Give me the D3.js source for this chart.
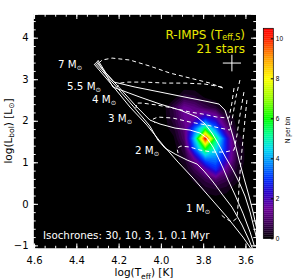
<!DOCTYPE html>
<html>
<head>
<meta charset="utf-8">
<script src="https://cdn.jsdelivr.net/npm/d3@7"></script>
<style>
  body { margin: 0; background: #fff; }
  svg { display: block; font-family: "DejaVu Sans", sans-serif; }
</style>
</head>
<body>
<svg id="chart" width="300" height="280"></svg>
<script>
// ---- axis ticks ----
const xTicks = [4.6, 4.4, 4.2, 4.0, 3.8, 3.6];
const yTicks = [-1, 0, 1, 2, 3, 4];
const cbTicks = [0, 2, 4, 6, 8, 10];

// ---- isochrones (solid), [log Teff, log L] ----
const isoLabels = ["30", "10", "3", "1", "0.1"];
const iso30 = [[4.316,3.364],[4.231,2.859],[4.146,2.330],[4.066,1.896],[3.990,1.415],[3.919,1.006],[3.848,0.621],[3.753,0.067],[3.687,-0.318],[3.612,-0.799],[3.569,-1.112]];
const iso10 = [[4.312,3.389],[4.222,2.883],[4.132,2.354],[4.052,1.872],[4.014,1.536],[3.981,1.343],[3.933,1.199],[3.876,1.054],[3.829,0.958],[3.796,0.789],[3.768,0.621],[3.749,0.501],[3.711,0.236],[3.664,-0.077],[3.616,-0.510],[3.583,-0.871],[3.564,-1.112]];
const iso3 = [[4.307,3.413],[4.212,2.883],[4.118,2.354],[4.052,2.017],[4.004,1.921],[3.933,1.824],[3.862,1.776],[3.815,1.704],[3.782,1.584],[3.753,1.367],[3.730,1.126],[3.706,0.862],[3.682,0.573],[3.649,0.212],[3.612,-0.222],[3.578,-0.679],[3.559,-0.991]];
const iso1 = [[4.302,3.437],[4.264,3.148],[4.227,2.811],[4.099,2.570],[4.004,2.402],[3.910,2.258],[3.829,2.089],[3.791,1.921],[3.758,1.704],[3.730,1.463],[3.692,1.102],[3.659,0.813],[3.630,0.525],[3.602,0.188],[3.578,-0.197],[3.559,-0.583],[3.545,-0.871]];
const iso01 = [[4.298,3.461],[4.260,3.148],[4.222,2.931],[4.122,2.811],[4.004,2.691],[3.886,2.570],[3.791,2.474],[3.725,2.402],[3.697,2.258],[3.678,1.969],[3.654,1.536],[3.630,1.054],[3.607,0.621],[3.583,0.188],[3.564,-0.197],[3.545,-0.630]];

// ---- evolutionary tracks (dashed) ----
const trackMasses = ["7", "5.5", "4", "3", "2", "1"];
const trk7 = [[3.706,2.787],[3.768,2.907],[3.862,3.027],[3.957,3.148],[4.052,3.316],[4.146,3.461],[4.231,3.509],[4.279,3.461],[4.288,3.413]];
const trk55 = [[3.711,2.811],[3.791,2.883],[3.886,2.907],[3.981,2.907],[4.075,2.931],[4.156,2.931],[4.193,2.907],[4.208,2.811]];
const trk4 = [[3.654,2.787],[3.664,2.426],[3.678,2.065],[3.735,2.089],[3.801,2.161],[3.862,2.209],[3.943,2.306],[4.018,2.378],[4.089,2.426],[4.113,2.426],[4.118,2.306]];
const trk3 = [[3.626,2.979],[3.645,2.570],[3.659,2.137],[3.673,1.776],[3.720,1.824],[3.782,1.896],[3.862,1.969],[3.943,2.065],[4.014,2.089],[4.037,2.041],[4.028,1.945]];
const trk2 = [[3.607,2.691],[3.626,2.137],[3.640,1.656],[3.654,1.295],[3.697,1.247],[3.758,1.247],[3.815,1.295],[3.862,1.367],[3.905,1.391],[3.924,1.343],[3.919,1.223]];
const trk1 = [[3.593,2.498],[3.607,1.776],[3.621,1.054],[3.630,0.453],[3.635,-0.029],[3.640,-0.342],[3.664,-0.438],[3.697,-0.342],[3.720,-0.245]];

// ---- stellar density (N per bin) on a grid ----
const heatT = [4.04, 3.99, 3.94, 3.89, 3.84, 3.79, 3.74, 3.69, 3.64, 3.59, 3.54];
const heatL = [0.07, 0.32, 0.57, 0.82, 1.07, 1.32, 1.57, 1.82, 2.07, 2.32, 2.57, 2.82];
const heatN = [
  [0, 0, 0,   0,   0,   0,    0,   0,   0,   0, 0],
  [0, 0, 0,   0,   0,   0.2,  0.3, 0.2, 0,   0, 0],
  [0, 0, 0,   0,   0.2, 0.6,  0.9, 0.6, 0.2, 0, 0],
  [0, 0, 0,   0.1, 0.7, 1.6,  2.8, 1.3, 0.3, 0, 0],
  [0, 0, 0,   0.3, 1.5, 3.5,  3.6, 2.3, 0.5, 0, 0],
  [0, 0, 0,   0.5, 3.4, 6.0,  4.6, 2.6, 0.5, 0, 0],
  [0, 0, 0.1, 0.9, 4.4, 10.4, 5.5, 2.6, 0.3, 0, 0],
  [0, 0, 0.3, 1.1, 3.4, 5.5,  3.5, 1.3, 0.1, 0, 0],
  [0, 0, 0.5, 1.4, 1.6, 2.6,  1.9, 0.5, 0,   0, 0],
  [0, 0, 0.6, 1.5, 1.2, 0.7,  0.4, 0,   0,   0, 0],
  [0, 0, 0,   0.5, 0.4, 0.1,  0,   0,   0,   0, 0],
  [0, 0, 0,   0,   0,   0,    0,   0,   0,   0, 0]
];

// typical error bar [log Teff, log L] and half sizes
const errPoint = [3.664, 3.389];
const errSize = [0.043, 0.2];

const svg = d3.select("#chart");

const x = d3.scaleLinear().domain([4.605, 3.55]).range([33, 256]);
const y = d3.scaleLinear().domain([-1.075, 4.57]).range([248.5, 14]);

// rainbow-like colour table
const cmapStops = [0, 0.8, 1.5, 2.3, 3.0, 3.8, 4.5, 5.2, 6.0, 7.0, 8.0, 9.0, 10.0, 10.5];
const cmapCols = ["#000000", "#40005a", "#6c0098", "#2a00c8", "#0030ff", "#0090ff", "#00dcf0",
                  "#00ff90", "#00ff00", "#98ff00", "#ffff00", "#ffa000", "#ff2000", "#ff0000"];
const color = d3.scaleLinear().domain(cmapStops).range(cmapCols).clamp(true);

// plot background
svg.append("rect")
  .attr("x", 33).attr("y", 14)
  .attr("width", 223).attr("height", 234.5)
  .attr("fill", "#000");

svg.append("clipPath").attr("id", "clip")
  .append("rect").attr("x", 33).attr("y", 14).attr("width", 223).attr("height", 234.5);

const plot = svg.append("g").attr("clip-path", "url(#clip)");

// density as filled contour bands
const nx = heatT.length, ny = heatL.length;
const gT = d3.scaleLinear().domain([0.5, nx - 0.5]).range([heatT[0], heatT[nx - 1]]);
const gL = d3.scaleLinear().domain([0.5, ny - 0.5]).range([heatL[0], heatL[ny - 1]]);
const step = 0.2;
const levels = d3.range(0.15, 10.5, step);
const contours = d3.contours().size([nx, ny]).thresholds(levels)(heatN.flat());
const proj = d3.geoTransform({
  point: function(px, py) { this.stream.point(x(gT(px)), y(gL(py))); }
});
plot.append("g").selectAll("path")
  .data(contours)
  .join("path")
  .attr("d", d3.geoPath(proj))
  .attr("fill", d => color(d.value + step / 2));

const line = d3.line().x(d => x(d[0])).y(d => y(d[1]));

plot.append("g").selectAll("path")
  .data([iso30, iso10, iso3, iso1, iso01])
  .join("path")
  .attr("d", line)
  .attr("fill", "none")
  .attr("stroke", "#fff")
  .attr("stroke-width", 1);

plot.append("g").selectAll("path")
  .data([trk7, trk55, trk4, trk3, trk2, trk1])
  .join("path")
  .attr("d", line)
  .attr("fill", "none")
  .attr("stroke", "#fff")
  .attr("stroke-width", 1)
  .attr("stroke-dasharray", "4,3");

// error cross
plot.append("line")
  .attr("x1", x(errPoint[0] + errSize[0])).attr("x2", x(errPoint[0] - errSize[0]))
  .attr("y1", y(errPoint[1])).attr("y2", y(errPoint[1]))
  .attr("stroke", "#fff").attr("stroke-width", 1);
plot.append("line")
  .attr("x1", x(errPoint[0])).attr("x2", x(errPoint[0]))
  .attr("y1", y(errPoint[1] - errSize[1])).attr("y2", y(errPoint[1] + errSize[1]))
  .attr("stroke", "#fff").attr("stroke-width", 1);

// mass labels
const massPos = [[58, 68], [67, 89.5], [92, 103], [108, 122], [135, 154], [186, 212]];
const labels = plot.append("g").attr("fill", "#fff").attr("font-size", 10.3);
trackMasses.forEach((m, i) => {
  const t = labels.append("text").attr("x", massPos[i][0]).attr("y", massPos[i][1]);
  t.append("tspan").text(m + " M");
  t.append("tspan").attr("font-size", 6.5).attr("dy", 2).text("\u2299");
});

labels.append("text")
  .attr("x", 43).attr("y", 238.5)
  .text("Isochrones: " + isoLabels.join(", ") + " Myr");

// sample name
const yel = "#e8e800";
const title = plot.append("text").attr("x", 245).attr("y", 38.5)
  .attr("text-anchor", "end").attr("fill", yel).attr("font-size", 12);
title.append("tspan").text("R-IMPS (T");
title.append("tspan").attr("font-size", 8).attr("dy", 1.5).text("eff,S");
title.append("tspan").attr("dy", -1.5).text(")");
plot.append("text").attr("x", 245).attr("y", 52.5)
  .attr("text-anchor", "end").attr("fill", yel).attr("font-size", 12)
  .text("21 stars");

// axes: ticks pointing inward on all four sides
function styleAxis(g, labelsOn) {
  g.select(".domain").attr("stroke", "#fff").attr("stroke-width", 0.6);
  g.selectAll(".tick line").attr("stroke", "#fff");
  g.selectAll("text").attr("font-size", 10).attr("fill", "#000")
    .attr("font-family", "DejaVu Sans, sans-serif");
  if (!labelsOn) g.selectAll("text").remove();
}

const xMinor = d3.range(3.55, 4.601, 0.05);
const yMinor = d3.range(-1.0, 4.56, 0.2);

[[248.5, d3.axisBottom, true], [14, d3.axisTop, false]].forEach(([py, ax, lab]) => {
  svg.append("g").attr("transform", `translate(0,${py})`)
    .call(ax(x).tickValues(xMinor).tickSize(-2.7).tickFormat(""))
    .call(g => styleAxis(g, false));
  svg.append("g").attr("transform", `translate(0,${py})`)
    .call(ax(x).tickValues(xTicks).tickSize(-5).tickPadding(8.5).tickFormat(d3.format(".1f")))
    .call(g => styleAxis(g, lab));
});

[[33, d3.axisLeft, true], [256, d3.axisRight, false]].forEach(([px, ax, lab]) => {
  svg.append("g").attr("transform", `translate(${px},0)`)
    .call(ax(y).tickValues(yMinor).tickSize(-2.7).tickFormat(""))
    .call(g => styleAxis(g, false));
  svg.append("g").attr("transform", `translate(${px},0)`)
    .call(ax(y).tickValues(yTicks).tickSize(-5).tickPadding(4.5).tickFormat(d3.format("d")))
    .call(g => styleAxis(g, lab));
});

// axis titles
const xt = svg.append("text").attr("x", 144).attr("y", 276)
  .attr("text-anchor", "middle").attr("font-size", 10.5);
xt.append("tspan").text("log(T");
xt.append("tspan").attr("font-size", 7.5).attr("dy", 2.5).text("eff");
xt.append("tspan").attr("dy", -2.5).text(") [K]");

const yt = svg.append("text").attr("transform", "translate(11.5,131) rotate(-90)")
  .attr("text-anchor", "middle").attr("font-size", 10.5);
yt.append("tspan").text("log(L");
yt.append("tspan").attr("font-size", 7.5).attr("dy", 2.5).text("bol");
yt.append("tspan").attr("dy", -2.5).text(") [L");
yt.append("tspan").attr("font-size", 7.5).attr("dy", 2.5).text("\u2299");
yt.append("tspan").attr("dy", -2.5).text("]");

// colour bar
const cb = d3.scaleLinear().domain([0, 10.5]).range([238.3, 28.3]);
const cbStep = 0.1;
svg.append("g").selectAll("rect")
  .data(d3.range(0, 10.5, cbStep))
  .join("rect")
  .attr("x", 263.3).attr("width", 10)
  .attr("y", d => cb(d + cbStep))
  .attr("height", d => cb(d) - cb(d + cbStep) + 0.3)
  .attr("fill", d => color(d + cbStep / 2));
svg.append("rect")
  .attr("x", 263.3).attr("y", 28.3).attr("width", 10).attr("height", 210)
  .attr("fill", "none").attr("stroke", "#000").attr("stroke-width", 0.7);
svg.append("g").attr("transform", "translate(273.3,0)")
  .call(d3.axisRight(cb).tickValues(cbTicks).tickSize(-2.5).tickPadding(2.5))
  .call(g => {
    g.select(".domain").remove();
    g.selectAll(".tick line").attr("stroke", "#000");
    g.selectAll("text").attr("font-size", 6.5).attr("font-family", "Liberation Sans, sans-serif");
  });
svg.append("text").attr("transform", "translate(290,130) rotate(-90)")
  .attr("text-anchor", "middle").attr("font-size", 6.5)
  .attr("font-family", "Liberation Sans, sans-serif")
  .text("N per bin");
</script>
</body>
</html>
